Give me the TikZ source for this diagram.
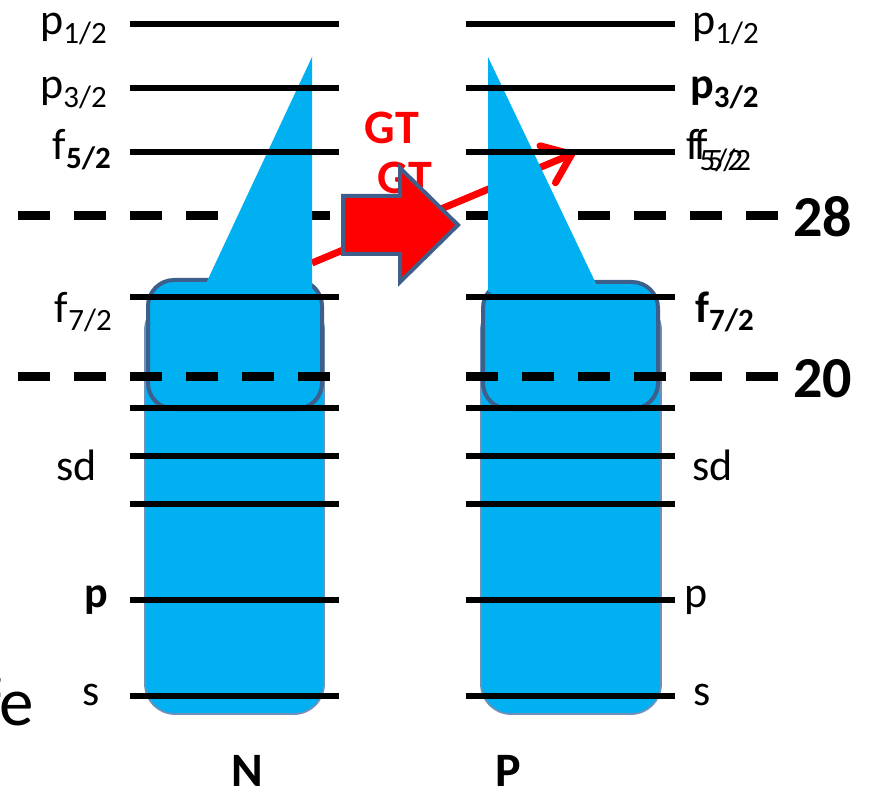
\documentclass[tikz,border=0pt]{standalone}
\usepackage{fontspec}
\setmainfont{Carlito}
\usetikzlibrary{arrows.meta}
\definecolor{fillblue}{HTML}{00B0F0}
\definecolor{edgeblue}{HTML}{3D5F8C}
\definecolor{thinblue}{HTML}{7090BA}
\definecolor{arrowedge}{HTML}{3F5F8A}
\newcommand\mysub[1]{\raisebox{-9pt}{\fontsize{31}{31}\selectfont #1}}
\tikzset{
  lbl/.style={inner sep=0pt, font=\fontsize{44}{50}\selectfont},
  lblL/.style={lbl, anchor=base east},
  lblR/.style={lbl, anchor=base west},
  bignum/.style={inner sep=0pt, font=\fontsize{58}{60}\selectfont\bfseries, anchor=base west},
  nucl/.style={inner sep=0pt, font=\fontsize{48}{50}\selectfont\bfseries, anchor=base},
  gtlbl/.style={inner sep=0pt, font=\fontsize{48}{50}\selectfont\bfseries, text=red},
  levelline/.style={line width=6pt, black},
  shellline/.style={line width=9pt, black, dash pattern=on 32pt off 24pt},
  lowerbox/.style={fill=fillblue, draw=thinblue, line width=1.8pt, rounded corners=30pt},
  upperbox/.style={fill=fillblue, draw=edgeblue, line width=4pt, rounded corners=26pt},
  wedge/.style={fill=fillblue, draw=none},
  redline/.style={red, line width=7pt, -{Straight Barb[length=26pt,width=40pt,line cap=round]}},
  blockarrow/.style={fill=red, draw=arrowedge, line width=4pt, line join=miter}
}
\begin{document}
\begin{tikzpicture}[x=1pt,y=-1pt]
\useasboundingbox (0,0) rectangle (869,791);

% dashed shell closure 28 (behind)
\draw[shellline] (18,216) -- (332,216);
\draw[shellline] (466,216) -- (778,216);

% boxes
\draw[lowerbox] (145,300) rectangle (324,714);
\draw[upperbox] (148,280) rectangle (322,409);
\draw[lowerbox] (481,300) rectangle (661,714);
\draw[upperbox] (483,282) rectangle (658,409);

% red transition line
\coordinate (rs) at (312,263);
\coordinate (re) at (577,152);
\draw[redline] (rs) -- (re);

% wedges
\fill[wedge] (312,57) -- (312,292) -- (202,292) -- cycle;
\fill[wedge] (488,57) -- (488,292) -- (600,292) -- cycle;

% levels
\foreach \yy in {24,88,152,297,408,456,504,600,696}{
  \draw[levelline] (130,\yy) -- (339,\yy);
  \draw[levelline] (466,\yy) -- (675,\yy);
}
% dashed shell closure 20
\draw[shellline] (18,376) -- (332,376);
\draw[shellline] (466,376) -- (778,376);

% GT labels and block arrow
\node[gtlbl] (gt1) at (392,128) {GT};
\node[gtlbl] (gt2) at (405,178) {GT};
\draw[blockarrow] (343,196) -- (400,196) -- (400,168) -- (458,225) -- (400,282) -- (400,254) -- (343,254) -- cycle;

% left labels
\node[lblL] (lp12) at (107,35) {p\mysub{1/2}};
\node[lblL] (lp32) at (107,99) {p\mysub{3/2}};
\node[lblL] (lf52) at (111,160) {f\mysub{\bfseries 5/2}};
\node[lblL] (lf72) at (112,322) {f\mysub{7/2}};
\node[lblL] (lsd) at (97,480) {sd};
\node[lblL, font=\fontsize{44}{50}\selectfont\bfseries] (lp) at (108,607) {p};
\node[lblL] (ls) at (100,705) {s};
\node[inner sep=0pt, anchor=base east, font=\fontsize{69}{70}\selectfont] (fe) at (34,725) {fe};

% right labels
\node[lblR] (rp12) at (692,35) {p\mysub{1/2}};
\node[lblR, font=\fontsize{44}{50}\selectfont\bfseries] (rp32) at (690,99) {p\mysub{3/2}};
\node[lblR] (rf52a) at (686,160) {f\raisebox{-11pt}{\fontsize{31}{31}\selectfont 5/2}};
\node[lblR] (rf52b) at (694,160) {f\raisebox{-11pt}{\fontsize{31}{31}\selectfont 5/2}};
\node[lblR, font=\fontsize{44}{50}\selectfont\bfseries] (rf72) at (695,322) {f\mysub{7/2}};
\node[lblR] (rsd) at (692,480) {sd};
\node[lblR] (rp) at (684,607) {p};
\node[lblR] (rs2) at (693,705) {s};
\node[bignum] (n28) at (793,237) {28};
\node[bignum] (n20) at (793,397) {20};

% nucleon labels
\node[nucl] (nN) at (247,786) {N};
\node[nucl] (nP) at (508,786) {P};
\end{tikzpicture}
\end{document}
